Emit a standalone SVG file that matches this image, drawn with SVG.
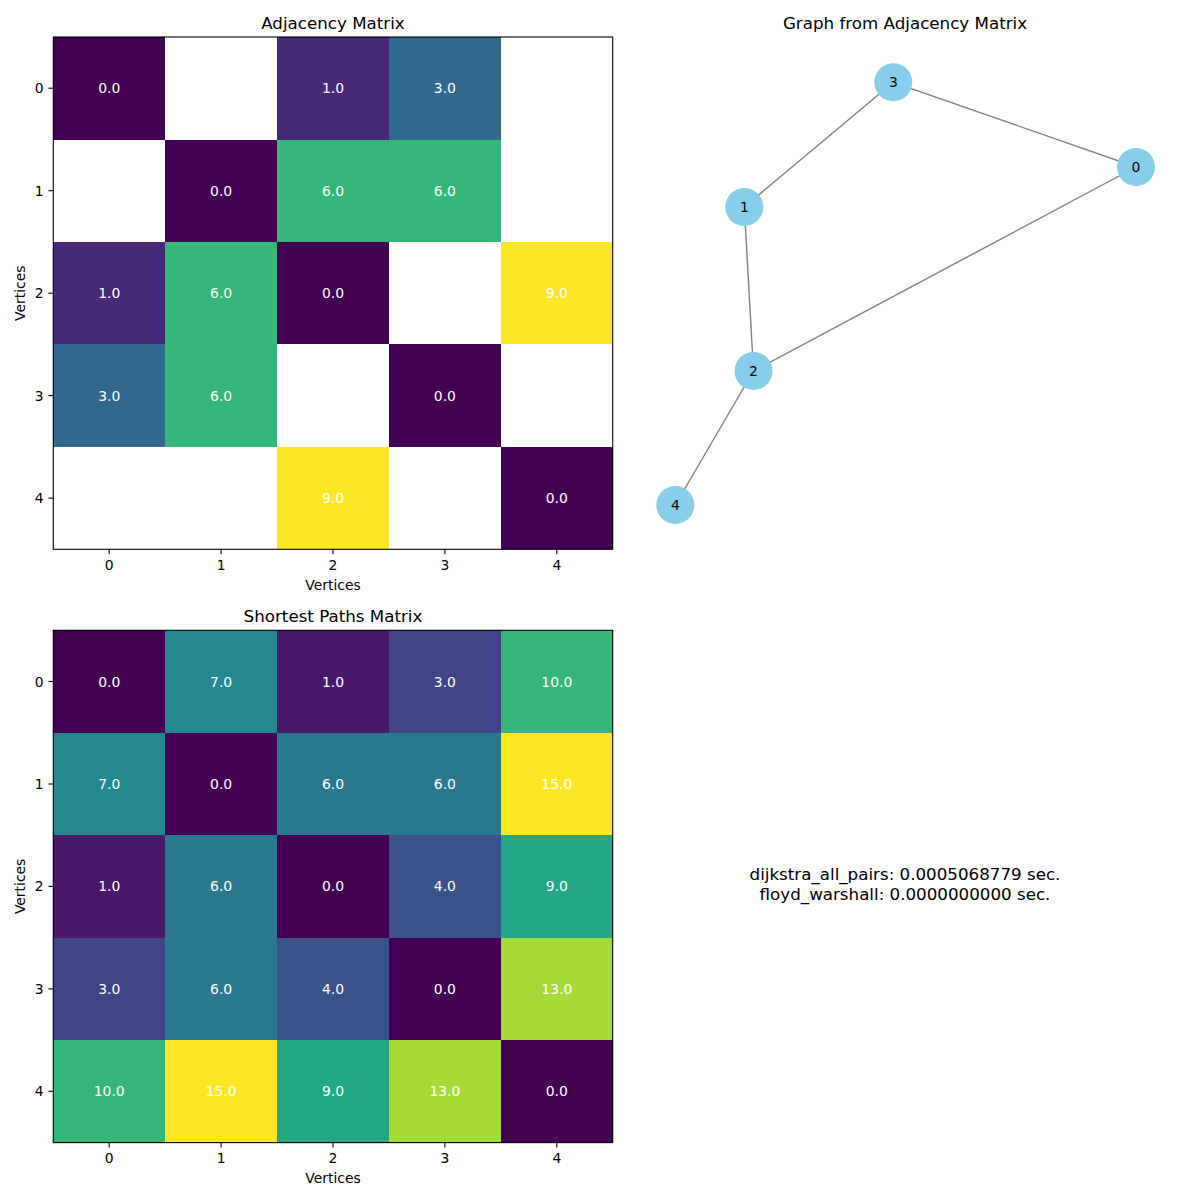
<svg xmlns="http://www.w3.org/2000/svg" width="1200" height="1200" viewBox="0 0 1200 1200">
<style>
text{font-family:"DejaVu Sans","Liberation Sans",sans-serif;fill:#000}
.title{font-size:16.7px;text-anchor:middle}
.tick{font-size:13.9px}
.tx{text-anchor:middle}
.ty{text-anchor:end}
.ann{font-size:13.9px;fill:#fff;text-anchor:middle}
.cells rect{shape-rendering:crispEdges}
.spine{fill:none;stroke:#000;stroke-width:1.1}
.tk{stroke:#000;stroke-width:1.1}
.edge{stroke:#808080;stroke-width:1.4}
.node circle{fill:#87ceeb}
.node text{font-size:13.9px;text-anchor:middle}
.big{font-size:16.7px;text-anchor:middle}
</style>
<rect width="1200" height="1200" fill="#fff"/>

<!-- Adjacency Matrix -->
<g id="adjacency-matrix">
<text class="title" x="333" y="29">Adjacency Matrix</text>
<g class="cells">
<rect x="53.3" y="37" width="111.9" height="102.5" fill="#440154"/>
<rect x="277.1" y="37" width="111.9" height="102.5" fill="#482878"/>
<rect x="388.9" y="37" width="111.9" height="102.5" fill="#31688e"/>
<rect x="165.2" y="139.5" width="111.9" height="102.5" fill="#440154"/>
<rect x="277.1" y="139.5" width="111.9" height="102.5" fill="#35b779"/>
<rect x="388.9" y="139.5" width="111.9" height="102.5" fill="#35b779"/>
<rect x="53.3" y="241.9" width="111.9" height="102.5" fill="#482878"/>
<rect x="165.2" y="241.9" width="111.9" height="102.5" fill="#35b779"/>
<rect x="277.1" y="241.9" width="111.9" height="102.5" fill="#440154"/>
<rect x="500.8" y="241.9" width="111.9" height="102.5" fill="#fde725"/>
<rect x="53.3" y="344.4" width="111.9" height="102.5" fill="#31688e"/>
<rect x="165.2" y="344.4" width="111.9" height="102.5" fill="#35b779"/>
<rect x="388.9" y="344.4" width="111.9" height="102.5" fill="#440154"/>
<rect x="277.1" y="446.8" width="111.9" height="102.5" fill="#fde725"/>
<rect x="500.8" y="446.8" width="111.9" height="102.5" fill="#440154"/>
</g>
<g>
<text class="ann" x="109.2" y="93.2">0.0</text>
<text class="ann" x="333" y="93.2">1.0</text>
<text class="ann" x="444.9" y="93.2">3.0</text>
<text class="ann" x="221.1" y="195.7">0.0</text>
<text class="ann" x="333" y="195.7">6.0</text>
<text class="ann" x="444.9" y="195.7">6.0</text>
<text class="ann" x="109.2" y="298.2">1.0</text>
<text class="ann" x="221.1" y="298.2">6.0</text>
<text class="ann" x="333" y="298.2">0.0</text>
<text class="ann" x="556.8" y="298.2">9.0</text>
<text class="ann" x="109.2" y="400.6">3.0</text>
<text class="ann" x="221.1" y="400.6">6.0</text>
<text class="ann" x="444.9" y="400.6">0.0</text>
<text class="ann" x="333" y="503.1">9.0</text>
<text class="ann" x="556.8" y="503.1">0.0</text>
</g>
<rect class="spine" x="53.3" y="37" width="559.4" height="512.3"/>
<g>
<line class="tk" x1="109.2" y1="549.3" x2="109.2" y2="554.2"/>
<line class="tk" x1="221.1" y1="549.3" x2="221.1" y2="554.2"/>
<line class="tk" x1="333" y1="549.3" x2="333" y2="554.2"/>
<line class="tk" x1="444.9" y1="549.3" x2="444.9" y2="554.2"/>
<line class="tk" x1="556.8" y1="549.3" x2="556.8" y2="554.2"/>
<line class="tk" x1="53.3" y1="88.2" x2="48.4" y2="88.2"/>
<line class="tk" x1="53.3" y1="190.7" x2="48.4" y2="190.7"/>
<line class="tk" x1="53.3" y1="293.2" x2="48.4" y2="293.2"/>
<line class="tk" x1="53.3" y1="395.6" x2="48.4" y2="395.6"/>
<line class="tk" x1="53.3" y1="498.1" x2="48.4" y2="498.1"/>
</g>
<g class="tick">
<text class="tx" x="109.2" y="570">0</text>
<text class="tx" x="221.1" y="570">1</text>
<text class="tx" x="333" y="570">2</text>
<text class="tx" x="444.9" y="570">3</text>
<text class="tx" x="556.8" y="570">4</text>
<text class="ty" x="43.6" y="93.2">0</text>
<text class="ty" x="43.6" y="195.7">1</text>
<text class="ty" x="43.6" y="298.2">2</text>
<text class="ty" x="43.6" y="400.6">3</text>
<text class="ty" x="43.6" y="503.1">4</text>
<text class="tx" x="333" y="590">Vertices</text>
<text class="tx" x="25.5" y="293.2" transform="rotate(-90 25.5 293.2)">Vertices</text>
</g>
</g>

<!-- Shortest Paths Matrix -->
<g id="shortest-paths-matrix">
<text class="title" x="333" y="622">Shortest Paths Matrix</text>
<g class="cells">
<rect x="53.3" y="630.3" width="111.9" height="102.5" fill="#440154"/>
<rect x="165.2" y="630.3" width="111.9" height="102.5" fill="#24878e"/>
<rect x="277.1" y="630.3" width="111.9" height="102.5" fill="#48186a"/>
<rect x="388.9" y="630.3" width="111.9" height="102.5" fill="#414487"/>
<rect x="500.8" y="630.3" width="111.9" height="102.5" fill="#35b779"/>
<rect x="53.3" y="732.8" width="111.9" height="102.5" fill="#24878e"/>
<rect x="165.2" y="732.8" width="111.9" height="102.5" fill="#440154"/>
<rect x="277.1" y="732.8" width="111.9" height="102.5" fill="#2a788e"/>
<rect x="388.9" y="732.8" width="111.9" height="102.5" fill="#2a788e"/>
<rect x="500.8" y="732.8" width="111.9" height="102.5" fill="#fde725"/>
<rect x="53.3" y="835.2" width="111.9" height="102.5" fill="#48186a"/>
<rect x="165.2" y="835.2" width="111.9" height="102.5" fill="#2a788e"/>
<rect x="277.1" y="835.2" width="111.9" height="102.5" fill="#440154"/>
<rect x="388.9" y="835.2" width="111.9" height="102.5" fill="#3b528b"/>
<rect x="500.8" y="835.2" width="111.9" height="102.5" fill="#22a884"/>
<rect x="53.3" y="937.7" width="111.9" height="102.5" fill="#414487"/>
<rect x="165.2" y="937.7" width="111.9" height="102.5" fill="#2a788e"/>
<rect x="277.1" y="937.7" width="111.9" height="102.5" fill="#3b528b"/>
<rect x="388.9" y="937.7" width="111.9" height="102.5" fill="#440154"/>
<rect x="500.8" y="937.7" width="111.9" height="102.5" fill="#a5db36"/>
<rect x="53.3" y="1040.1" width="111.9" height="102.5" fill="#35b779"/>
<rect x="165.2" y="1040.1" width="111.9" height="102.5" fill="#fde725"/>
<rect x="277.1" y="1040.1" width="111.9" height="102.5" fill="#22a884"/>
<rect x="388.9" y="1040.1" width="111.9" height="102.5" fill="#a5db36"/>
<rect x="500.8" y="1040.1" width="111.9" height="102.5" fill="#440154"/>
</g>
<g>
<text class="ann" x="109.2" y="686.5">0.0</text>
<text class="ann" x="221.1" y="686.5">7.0</text>
<text class="ann" x="333" y="686.5">1.0</text>
<text class="ann" x="444.9" y="686.5">3.0</text>
<text class="ann" x="556.8" y="686.5">10.0</text>
<text class="ann" x="109.2" y="789">7.0</text>
<text class="ann" x="221.1" y="789">0.0</text>
<text class="ann" x="333" y="789">6.0</text>
<text class="ann" x="444.9" y="789">6.0</text>
<text class="ann" x="556.8" y="789">15.0</text>
<text class="ann" x="109.2" y="891.4">1.0</text>
<text class="ann" x="221.1" y="891.4">6.0</text>
<text class="ann" x="333" y="891.4">0.0</text>
<text class="ann" x="444.9" y="891.4">4.0</text>
<text class="ann" x="556.8" y="891.4">9.0</text>
<text class="ann" x="109.2" y="993.9">3.0</text>
<text class="ann" x="221.1" y="993.9">6.0</text>
<text class="ann" x="333" y="993.9">4.0</text>
<text class="ann" x="444.9" y="993.9">0.0</text>
<text class="ann" x="556.8" y="993.9">13.0</text>
<text class="ann" x="109.2" y="1096.3">10.0</text>
<text class="ann" x="221.1" y="1096.3">15.0</text>
<text class="ann" x="333" y="1096.3">9.0</text>
<text class="ann" x="444.9" y="1096.3">13.0</text>
<text class="ann" x="556.8" y="1096.3">0.0</text>
</g>
<rect class="spine" x="53.3" y="630.3" width="559.4" height="512.3"/>
<g>
<line class="tk" x1="109.2" y1="1142.6" x2="109.2" y2="1147.5"/>
<line class="tk" x1="221.1" y1="1142.6" x2="221.1" y2="1147.5"/>
<line class="tk" x1="333" y1="1142.6" x2="333" y2="1147.5"/>
<line class="tk" x1="444.9" y1="1142.6" x2="444.9" y2="1147.5"/>
<line class="tk" x1="556.8" y1="1142.6" x2="556.8" y2="1147.5"/>
<line class="tk" x1="53.3" y1="681.5" x2="48.4" y2="681.5"/>
<line class="tk" x1="53.3" y1="784" x2="48.4" y2="784"/>
<line class="tk" x1="53.3" y1="886.4" x2="48.4" y2="886.4"/>
<line class="tk" x1="53.3" y1="988.9" x2="48.4" y2="988.9"/>
<line class="tk" x1="53.3" y1="1091.3" x2="48.4" y2="1091.3"/>
</g>
<g class="tick">
<text class="tx" x="109.2" y="1163.3">0</text>
<text class="tx" x="221.1" y="1163.3">1</text>
<text class="tx" x="333" y="1163.3">2</text>
<text class="tx" x="444.9" y="1163.3">3</text>
<text class="tx" x="556.8" y="1163.3">4</text>
<text class="ty" x="43.6" y="686.5">0</text>
<text class="ty" x="43.6" y="789">1</text>
<text class="ty" x="43.6" y="891.4">2</text>
<text class="ty" x="43.6" y="993.9">3</text>
<text class="ty" x="43.6" y="1096.3">4</text>
<text class="tx" x="333" y="1183.3">Vertices</text>
<text class="tx" x="25.5" y="886.4" transform="rotate(-90 25.5 886.4)">Vertices</text>
</g>
</g>

<!-- Graph -->
<text class="title" x="905" y="29">Graph from Adjacency Matrix</text>
<g id="connectors">
<line class="edge" x1="893.3" y1="82.3" x2="1136" y2="167"/>
<line class="edge" x1="893.3" y1="82.3" x2="744.3" y2="207"/>
<line class="edge" x1="744.3" y1="207" x2="753.5" y2="371"/>
<line class="edge" x1="753.5" y1="371" x2="1136" y2="167"/>
<line class="edge" x1="753.5" y1="371" x2="675.3" y2="505"/>
</g>
<g id="node-0" class="node"><circle cx="1136" cy="167" r="19"/><text x="1136" y="172">0</text></g>
<g id="node-1" class="node"><circle cx="744.3" cy="207" r="19"/><text x="744.3" y="212">1</text></g>
<g id="node-2" class="node"><circle cx="753.5" cy="371" r="19"/><text x="753.5" y="376">2</text></g>
<g id="node-3" class="node"><circle cx="893.3" cy="82.3" r="19"/><text x="893.3" y="87.3">3</text></g>
<g id="node-4" class="node"><circle cx="675.3" cy="505" r="19"/><text x="675.3" y="510">4</text></g>

<g id="timings">
<text class="big" x="905" y="880">dijkstra_all_pairs: 0.0005068779 sec.</text>
<text class="big" x="905" y="900">floyd_warshall: 0.0000000000 sec.</text>
</g>
</svg>
